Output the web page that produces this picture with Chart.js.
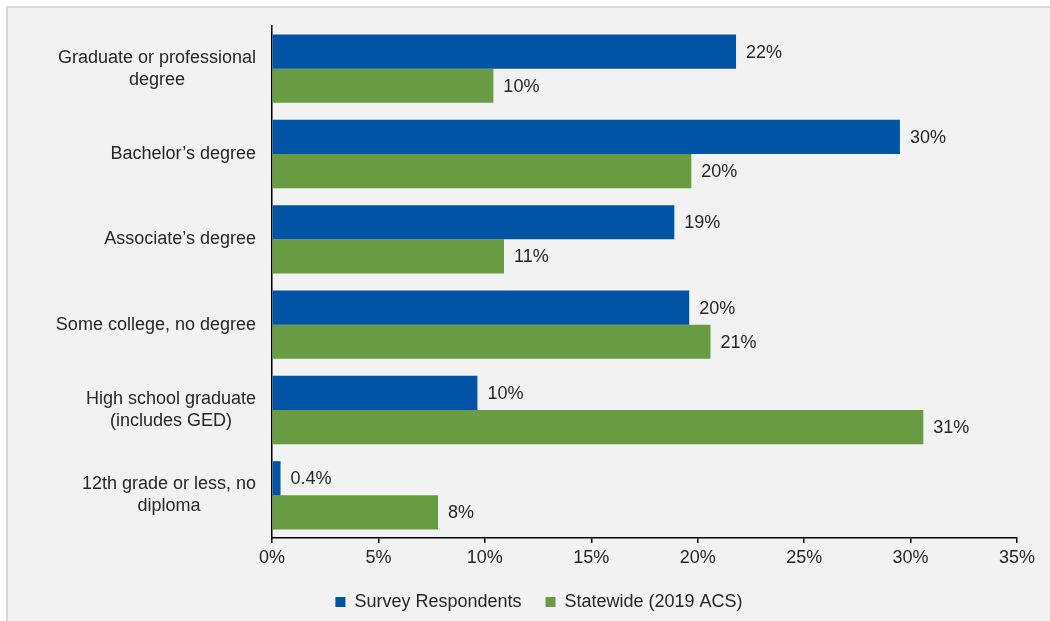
<!DOCTYPE html>
<html>
<head>
<meta charset="utf-8">
<script src="https://cdn.jsdelivr.net/npm/chart.js@4.4.1/dist/chart.umd.min.js"></script>
<style>
  html, body { margin: 0; padding: 0; background: #fff; }
  body { width: 1050px; height: 621px; position: relative; overflow: hidden; }
  #panel {
    position: absolute; left: 6px; top: 6px; right: -4px; bottom: -4px;
    background: #f2f2f2; border: 2px solid #dadada;
  }
  #wrap { position: absolute; left: 50px; top: 0; width: 1000px; height: 630px; }
</style>
</head>
<body>
<div id="panel"></div>
<div id="wrap"><canvas id="chart"></canvas></div>
<script>
const categories = [
  ["Graduate or professional", "degree"],
  ["Bachelor’s degree"],
  ["Associate’s degree"],
  ["Some college, no degree"],
  ["High school graduate", "(includes GED)"],
  ["12th grade or less, no", "diploma"]
];
const surveyRespondents = [21.8, 29.5, 18.9, 19.6, 9.65, 0.4];
const statewide = [10.4, 19.7, 10.9, 20.6, 30.6, 7.8];
const seriesNames = ["Survey Respondents", "Statewide (2019 ACS)"];
const xTicks = [0, 5, 10, 15, 20, 25, 30, 35];

const FONT = "'Liberation Sans', Arial, sans-serif";
const TEXT = "#262626";

const fmt = v => (v < 1 ? v.toFixed(1) : Math.round(v)) + "%";

/* value labels to the right of each bar */
const valueLabels = {
  id: "valueLabels",
  afterDatasetsDraw(chart){
    const ctx = chart.ctx;
    ctx.save();
    ctx.font = "18px " + FONT;
    ctx.fillStyle = TEXT;
    ctx.textAlign = "left";
    ctx.textBaseline = "middle";
    chart.data.datasets.forEach((ds, i) => {
      chart.getDatasetMeta(i).data.forEach((bar, j) => {
        ctx.fillText(fmt(ds.data[j]), bar.x + 10, bar.y + 1);
      });
    });
    ctx.restore();
  }
};

/* category labels: block right-aligned to the axis, lines centred inside */
const catLabels = {
  id: "catLabels",
  afterDraw(chart){
    const ctx = chart.ctx, y = chart.scales.y;
    const right = chart.chartArea.left - 16;
    const lh = 22;
    ctx.save();
    ctx.font = "18px " + FONT;
    ctx.fillStyle = TEXT;
    ctx.textAlign = "center";
    ctx.textBaseline = "middle";
    categories.forEach((lines, i) => {
      const w = Math.max(...lines.map(l => ctx.measureText(l).width));
      const cx = right - w / 2;
      const cy = y.getPixelForValue(i);
      lines.forEach((l, k) => {
        ctx.fillText(l, cx, cy + (k - (lines.length - 1) / 2) * lh);
      });
    });
    ctx.restore();
  }
};

new Chart(document.getElementById("chart"), {
  type: "bar",
  data: {
    labels: categories,
    datasets: [
      { label: seriesNames[0], data: surveyRespondents, backgroundColor: "#0054A6" },
      { label: seriesNames[1], data: statewide, backgroundColor: "#699B42" }
    ]
  },
  options: {
    indexAxis: "y",
    responsive: true,
    maintainAspectRatio: false,
    animation: false,
    events: [],
    categoryPercentage: 0.8,
    barPercentage: 1.0,
    layout: { padding: { left: 11, right: 33, top: 26, bottom: 9 } },
    scales: {
      x: {
        min: 0, max: 35,
        afterBuildTicks(scale){ scale.ticks = xTicks.map(v => ({ value: v })); },
        ticks: {
          callback: v => v + "%",
          color: TEXT,
          font: { family: FONT, size: 18 },
          padding: 4,
          maxRotation: 0
        },
        grid: { display: true, drawOnChartArea: false, drawTicks: true, tickLength: 5, color: "#000", lineWidth: 1.5 },
        border: { display: true, color: "#000", width: 1.5 },
        afterFit(scale){ scale.height = 31; }
      },
      y: {
        ticks: { display: false },
        grid: { display: false },
        border: { display: true, color: "#000", width: 1.5 },
        afterFit(scale){ scale.width = 211; }
      }
    },
    plugins: {
      legend: {
        position: "bottom",
        labels: {
          boxWidth: 10, boxHeight: 10,
          color: TEXT,
          font: { family: FONT, size: 18 },
          padding: 24
        }
      },
      tooltip: { enabled: false }
    }
  },
  plugins: [valueLabels, catLabels]
});
</script>
</body>
</html>
